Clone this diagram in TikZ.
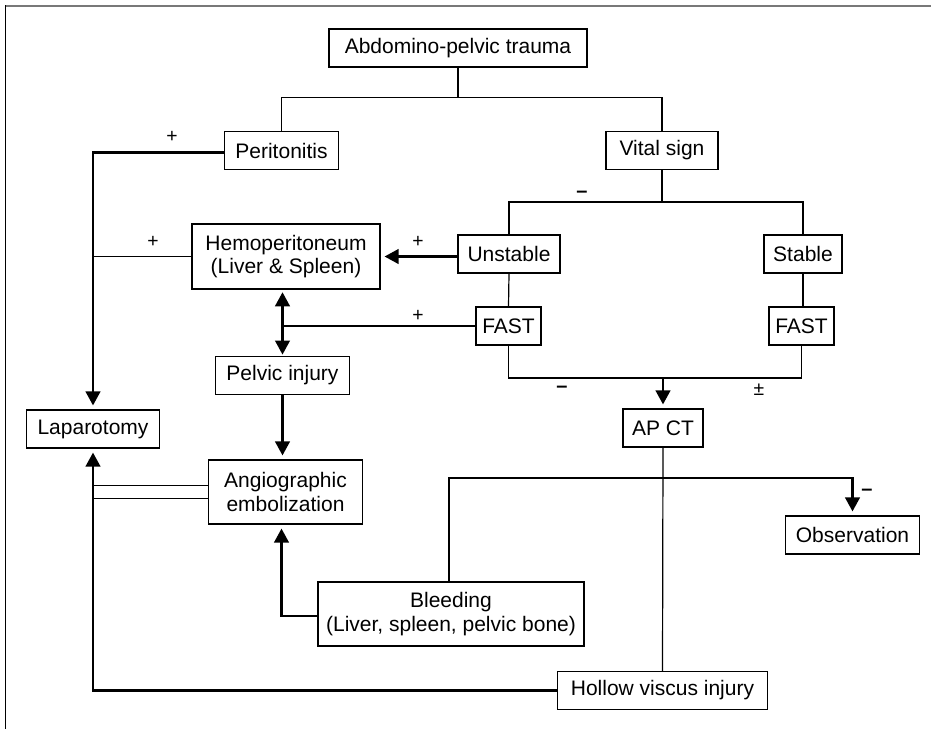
\documentclass[tikz,border=0pt]{standalone}
\usepackage{fontspec}
\setmainfont{Liberation Sans}
\usetikzlibrary{arrows.meta,calc}

\tikzset{
  box/.style={draw, line width=0.9pt, align=center, inner sep=0pt, minimum height=28.5pt,
    font=\fontsize{15.75}{17.6}\selectfont},
  link/.style={line width=0.9pt},
  flow/.style={line width=1.6pt, -{Triangle[length=10.5pt,width=11pt]}, shorten >=3pt},
  both/.style={line width=1.6pt, {Triangle[length=10.5pt,width=11pt]}-{Triangle[length=10.5pt,width=11pt]}, shorten >=1pt, shorten <=2pt},
  sign/.style={inner sep=0pt, font=\fontsize{14.5}{14.5}\selectfont},
  minus/.style={inner sep=0pt, font=\fontsize{15}{15}\selectfont\bfseries}
}

\begin{document}
\begin{tikzpicture}[x=0.75pt,y=0.75pt,yscale=-1,xscale=1]
\useasboundingbox (0,0) rectangle (931,729);

%Frame
\draw [color={rgb, 255:red, 120; green, 120; blue, 120}, line width=1.5pt] (5,5.5) -- (931,5.5) ;
\draw [line width=1.2pt] (5.5,5) -- (5.5,729) ;

%Shape: Rectangle (boxes)
\node [box, minimum width=193.5pt] (trauma) at (458,48) {Abdomino-pelvic trauma};
\node [box, minimum width=86pt] (perit) at (281.5,150.5) {Peritonitis};
\node [box, minimum width=84pt] (vital) at (662,150.5) {Vital sign};
\node [box, minimum width=141pt, minimum height=48.75pt] (hemo) at (286,256.5) {Hemoperitoneum\\(Liver \& Spleen)};
\node [box, minimum width=76.5pt] (unstable) at (509,254) {Unstable};
\node [box, minimum width=58.5pt] (stable) at (803,254) {Stable};
\node [box, minimum width=48.75pt] (fastL) at (508.5,326) {FAST};
\node [box, minimum width=48.75pt] (fastR) at (801.5,326) {FAST};
\node [box, minimum width=100.5pt] (pelvic) at (282.5,375.5) {Pelvic injury};
\node [box, minimum width=60pt] (apct) at (663,428) {AP CT};
\node [box, minimum width=100pt] (lap) at (93,429) {Laparotomy};
\node [box, minimum width=115pt, minimum height=48pt] (angio) at (285.5,492) {Angiographic\\embolization};
\node [box, minimum width=101pt] (obs) at (852.5,535) {Observation};
\node [box, minimum width=199.5pt, minimum height=48pt] (bleed) at (451,614) {Bleeding\\(Liver, spleen, pelvic bone)};
\node [box, minimum width=158pt] (hollow) at (662.5,690.5) {Hollow viscus injury};

%Straight Lines (split points)
\coordinate (topsplit) at (458,97.5);
\coordinate (vitalsplit) at (662,202);
\coordinate (fastjoin) at (663,378);
\coordinate (ctsplit) at (663,478);

%Straight Lines
\draw [link] (trauma.south) -- (topsplit) ;
\draw [link] (perit.north) -- (perit.north |- topsplit) -- (vital.north |- topsplit) -- (vital.north) ;
\draw [link] (vital.south) -- (vitalsplit) ;
\draw [link] (unstable.north) -- (unstable.north |- vitalsplit) -- (stable.north |- vitalsplit) -- (stable.north) ;
\draw [link] (unstable.south) -- (fastL.north) ;
\draw [link] (stable.south) -- (stable.south |- fastR.north) ;
\draw [link] (fastL.south) -- (fastL.south |- fastjoin) -- (fastR.south |- fastjoin) -- (fastR.south) ;
\draw [flow] (fastjoin) -- (apct.north) ;
\draw [link] (apct.south) -- (hollow.north) ;

%Straight Lines (left side)
\draw [flow] ($(perit.west)+(0,2)$) -| (lap.north) ;
\draw [link] (hemo.west) -- (hemo.west -| lap.north) ;
\draw [flow] (unstable.west |- hemo.east) -- (hemo.east) ;
\draw [link] (fastL.west) -- (fastL.west -| pelvic.north) ;
\draw [both] (hemo.south -| pelvic.north) -- (pelvic.north) ;
\draw [flow] (pelvic.south) -- (pelvic.south |- angio.north) ;
\draw [link] ($(angio.west)+(0,-6.5)$) -- ($(angio.west -| lap.south)+(0,-6.5)$) ;
\draw [link] ($(angio.west)+(0,6.5)$) -- ($(angio.west -| lap.south)+(0,6.5)$) ;
\draw [flow] (hollow.west) -| (lap.south) ;
\draw [flow] ($(bleed.west)+(0,2)$) -| ($(angio.south)+(-4,0)$) ;
\draw [flow] ($(bleed.north)+(-2,0)$) |- (ctsplit) -| (obs.north) ;

% Text Node
\node [sign] (plusA) at (172,137) {+};
\node [sign] (plusB) at (153,242) {+};
\node [sign] (plusC) at (418,242) {+};
\node [sign] (plusD) at (418,316) {+};
\node [minus] (minusA) at (582,194) {–};
\node [minus] (minusB) at (562,389) {–};
\node [minus] (minusC) at (867,492) {–};
\node [sign] (plusminus) at (759,390) {±};

\end{tikzpicture}
\end{document}
